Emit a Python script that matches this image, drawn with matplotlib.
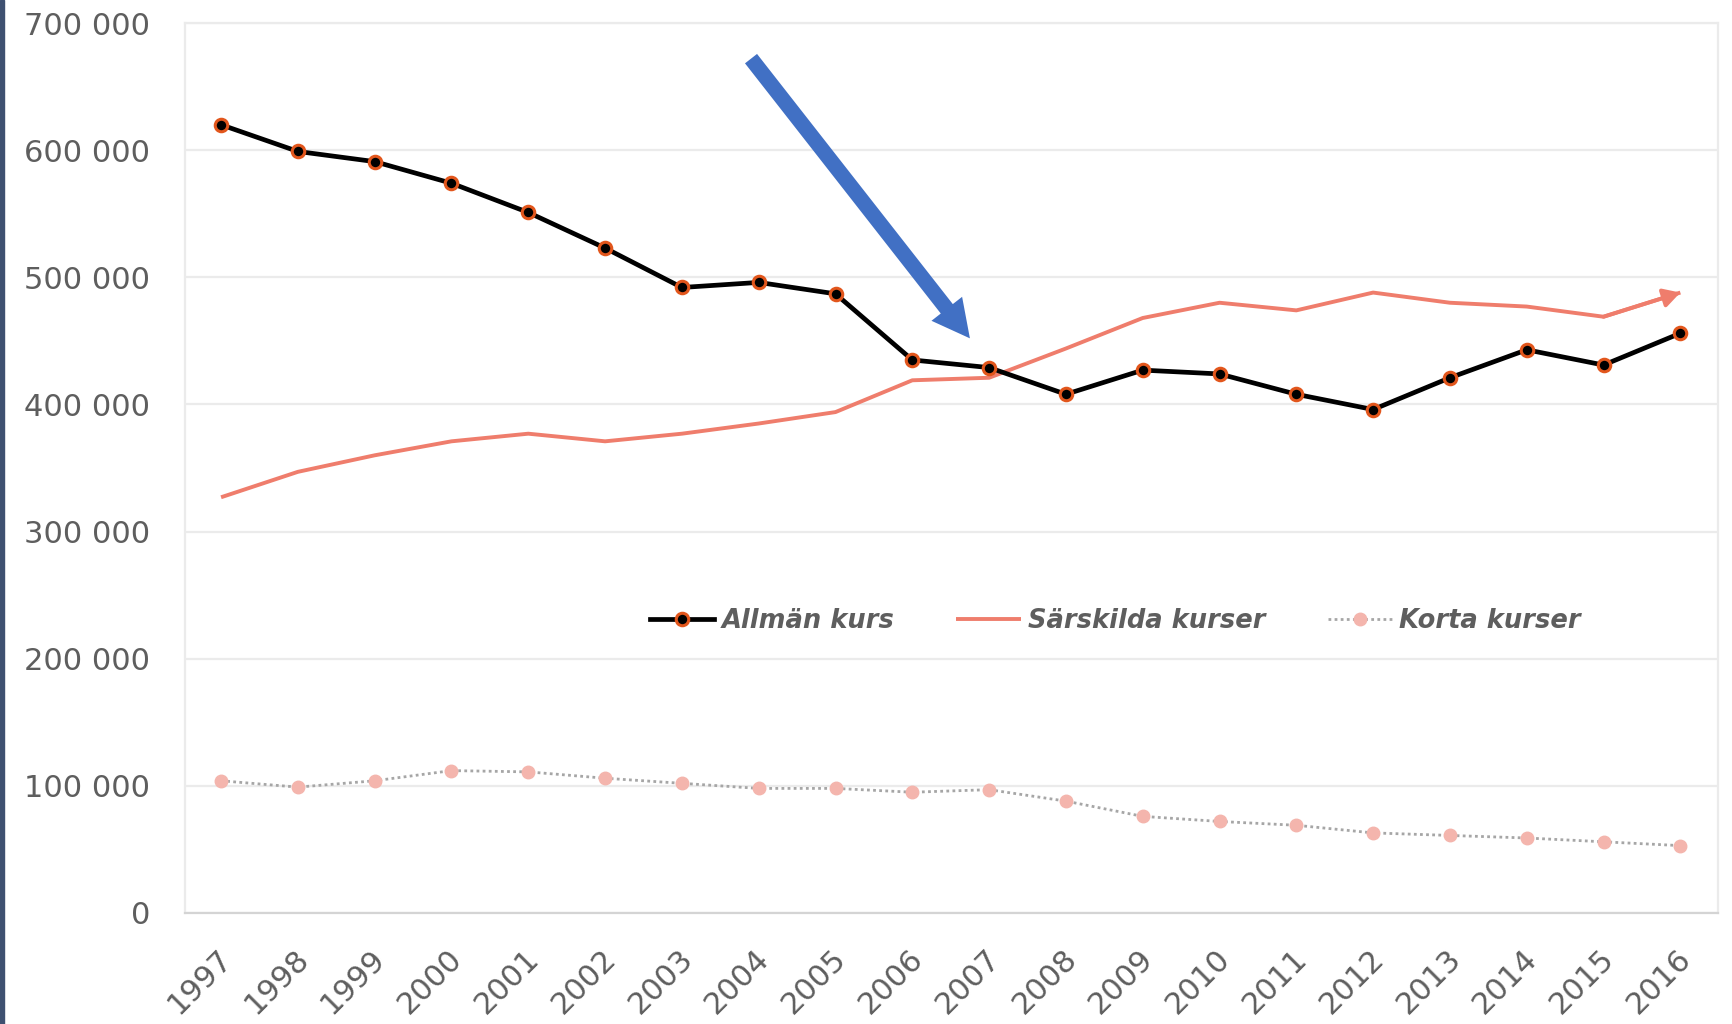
import matplotlib

matplotlib.use("Agg")
import matplotlib.pyplot as plt
import matplotlib.ticker as ticker
import matplotlib.transforms as transforms
from matplotlib.patches import FancyArrowPatch, Rectangle

years = [str(y) for y in range(1997, 2017)]

allman_kurs = [
    620000, 599000, 591000, 574000, 551000, 523000, 492000, 496000, 487000, 435000,
    429000, 408000, 427000, 424000, 408000, 396000, 421000, 443000, 431000, 456000,
]
sarskilda_kurser = [
    327000, 347000, 360000, 371000, 377000, 371000, 377000, 385000, 394000, 419000,
    421000, 444000, 468000, 480000, 474000, 488000, 480000, 477000, 469000, 488000,
]
korta_kurser = [
    104000, 99000, 104000, 112000, 111000, 106000, 102000, 98000, 98000, 95000,
    97000, 88000, 76000, 72000, 69000, 63000, 61000, 59000, 56000, 53000,
]

# blue callout arrow (tail -> tip), in data units
arrow_tail = (6.9, 672000)
arrow_tip = (9.75, 452000)

TEXT_GREY = "#5E5E5E"
GRID_GREY = "#EBEBEB"


def space_thousands(x: float, _: None = None) -> str:
    return f"{int(x):,}".replace(",", " ")


fig = plt.figure(figsize=(17.32, 10.24), dpi=100)
ax = fig.add_axes([0.1068, 0.1084, 0.9919 - 0.1068, 0.9775 - 0.1084])

x = list(range(len(years)))

ax.plot(
    x, allman_kurs, color="black", lw=3.4, marker="o", markersize=9,
    markerfacecolor="black", markeredgecolor="#E2561C", markeredgewidth=2.2,
    label="Allmän kurs", zorder=4,
)
ax.plot(
    x, sarskilda_kurser, color="#EF7D6C", lw=2.8, label="Särskilda kurser",
    solid_capstyle="butt", zorder=3,
)
# the last segment of Särskilda kurser ends in an arrow head
ax.add_patch(
    FancyArrowPatch(
        (x[-2], sarskilda_kurser[-2]), (x[-1], sarskilda_kurser[-1]),
        arrowstyle="-|>,head_length=0.5,head_width=0.28", mutation_scale=20,
        color="#EF7D6C", lw=2.8, shrinkA=0, shrinkB=0, zorder=3,
    )
)
ax.plot(
    x, korta_kurser, color="#A6A6A6", lw=2, linestyle=(0, (1, 1.2)),
    marker="o", markersize=9, markerfacecolor="#F4B5AD", markeredgecolor="#F4B5AD",
    label="Korta kurser", zorder=3,
)

ax.add_patch(
    FancyArrowPatch(
        arrow_tail, arrow_tip,
        arrowstyle="simple,head_width=28,head_length=27,tail_width=11",
        mutation_scale=1, color="#4170C4", lw=0, shrinkA=0, shrinkB=0, zorder=5,
    )
)

ax.set_xlim(-0.47, len(years) - 0.51)
ax.set_ylim(0, 700000)
ax.yaxis.set_major_locator(ticker.MultipleLocator(100000))
ax.yaxis.set_major_formatter(ticker.FuncFormatter(space_thousands))
ax.set_xticks(x)
ax.set_xticklabels(years)

ax.grid(axis="y", color=GRID_GREY, lw=1.6)
ax.set_axisbelow(True)
for side in ["left", "top", "right"]:
    ax.spines[side].set_color(GRID_GREY)
    ax.spines[side].set_linewidth(1.6)
ax.spines["bottom"].set_color("#D4D4D4")
ax.spines["bottom"].set_linewidth(1.6)

ax.tick_params(axis="both", length=0, labelsize=22, labelcolor=TEXT_GREY)
ax.tick_params(axis="y", pad=25)
ax.tick_params(axis="x", pad=22)
shift = transforms.ScaledTranslation(-4 / 100, 0, fig.dpi_scale_trans)
for lbl in ax.get_xticklabels():
    lbl.set_rotation(45)
    lbl.set_ha("right")
    lbl.set_va("top")
    lbl.set_rotation_mode("anchor")
    lbl.set_transform(lbl.get_transform() + shift)

leg = ax.legend(
    loc="center", bbox_to_anchor=(0.607, 0.328), ncol=3, frameon=False,
    handlelength=2.5, handletextpad=0.3, columnspacing=2.4,
    prop={"size": 18.5, "weight": "bold", "style": "italic"},
)
for t in leg.get_texts():
    t.set_color(TEXT_GREY)

# dark strip along the left edge of the picture
fig.patches.append(
    Rectangle((0, 0), 4 / 1732, 1, transform=fig.transFigure, color="#3E5070", zorder=10)
)

fig.savefig("out.png", dpi=100)
